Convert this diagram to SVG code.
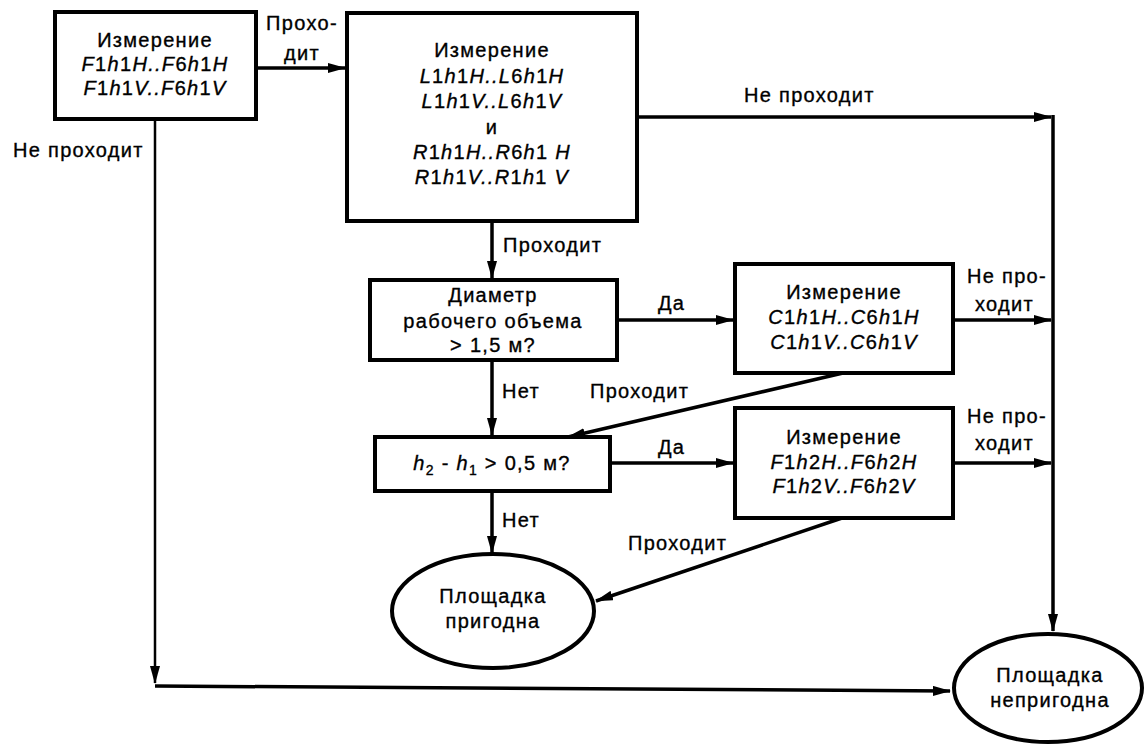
<svg xmlns="http://www.w3.org/2000/svg" width="1145" height="744" viewBox="0 0 1145 744">
<style>
  text { font-family: "Liberation Sans", Arial, sans-serif; font-size: 20px; letter-spacing: 1.3px; fill: #000; stroke: #000; stroke-width: 0.35px; }
  .c { text-anchor: middle; }
  .i { font-style: italic; }
  .box { fill: #fff; stroke: #000; stroke-width: 4; }
  .ell { fill: #fff; stroke: #000; stroke-width: 4; }
  .ln { fill: none; stroke: #000; stroke-width: 3.5; }
  .thin { fill: none; stroke: #000; stroke-width: 2.5; }
</style>
<defs>
  <marker id="ah" markerUnits="userSpaceOnUse" markerWidth="18" markerHeight="10" refX="17" refY="5" orient="auto">
    <path d="M0,0 L18,5 L0,10 z" fill="#000"/>
  </marker>
</defs>
<rect width="1145" height="744" fill="#fff"/>

<g id="connectors">
  <line class="ln" x1="256" y1="68" x2="345" y2="68" marker-end="url(#ah)"/>
  <line class="ln" x1="637" y1="117" x2="1051" y2="117" marker-end="url(#ah)"/>
  <line class="ln" x1="1053" y1="115" x2="1053" y2="631" marker-end="url(#ah)"/>
  <line class="ln" x1="492" y1="221" x2="492" y2="278" marker-end="url(#ah)"/>
  <line class="ln" x1="618" y1="320" x2="733" y2="320" marker-end="url(#ah)"/>
  <line class="ln" x1="953" y1="320" x2="1051" y2="320" marker-end="url(#ah)"/>
  <line class="ln" x1="843" y1="373" x2="568" y2="437" marker-end="url(#ah)"/>
  <line class="ln" x1="492" y1="360" x2="492" y2="435" marker-end="url(#ah)"/>
  <line class="ln" x1="610" y1="463" x2="733" y2="463" marker-end="url(#ah)"/>
  <line class="ln" x1="953" y1="463" x2="1051" y2="463" marker-end="url(#ah)"/>
  <line class="ln" x1="492" y1="491" x2="492" y2="553" marker-end="url(#ah)"/>
  <line class="ln" x1="842" y1="518" x2="596" y2="601" marker-end="url(#ah)"/>
  <line class="thin" x1="155" y1="119" x2="155" y2="683" marker-end="url(#ah)"/>
  <line class="ln" x1="155" y1="686" x2="950" y2="691" marker-end="url(#ah)"/>
  <text x="302" y="30" class="c">Прохо-</text>
  <text x="302" y="60" class="c">дит</text>
  <text x="13" y="157">Не проходит</text>
  <text x="744" y="102">Не проходит</text>
  <text x="503" y="252">Проходит</text>
  <text x="658" y="310">Да</text>
  <text x="967" y="283">Не про-</text>
  <text x="975" y="311">ходит</text>
  <text x="502" y="398">Нет</text>
  <text x="590" y="398">Проходит</text>
  <text x="658" y="454">Да</text>
  <text x="967" y="423">Не про-</text>
  <text x="975" y="450">ходит</text>
  <text x="502" y="527">Нет</text>
  <text x="628" y="550">Проходит</text>
</g>

<g id="node-f1">
  <rect class="box" x="55" y="12" width="201" height="107"/>
  <text x="155" y="47" class="c">Измерение</text>
  <text x="155" y="71" class="c"><tspan class="i">F</tspan>1<tspan class="i">h</tspan>1<tspan class="i">H..F</tspan>6<tspan class="i">h</tspan>1<tspan class="i">H</tspan></text>
  <text x="155" y="95" class="c"><tspan class="i">F</tspan>1<tspan class="i">h</tspan>1<tspan class="i">V..F</tspan>6<tspan class="i">h</tspan>1<tspan class="i">V</tspan></text>
</g>

<g id="node-lr">
  <rect class="box" x="347" y="13" width="290" height="208"/>
  <text x="492" y="57" class="c">Измерение</text>
  <text x="492" y="83" class="c"><tspan class="i">L</tspan>1<tspan class="i">h</tspan>1<tspan class="i">H..L</tspan>6<tspan class="i">h</tspan>1<tspan class="i">H</tspan></text>
  <text x="492" y="108" class="c"><tspan class="i">L</tspan>1<tspan class="i">h</tspan>1<tspan class="i">V..L</tspan>6<tspan class="i">h</tspan>1<tspan class="i">V</tspan></text>
  <text x="492" y="134" class="c">и</text>
  <text x="492" y="159" class="c"><tspan class="i">R</tspan>1<tspan class="i">h</tspan>1<tspan class="i">H..R</tspan>6<tspan class="i">h</tspan>1 <tspan class="i">H</tspan></text>
  <text x="492" y="184" class="c"><tspan class="i">R</tspan>1<tspan class="i">h</tspan>1<tspan class="i">V..R</tspan>1<tspan class="i">h</tspan>1 <tspan class="i">V</tspan></text>
</g>

<g id="node-diam">
  <rect class="box" x="370" y="280" width="247" height="80"/>
  <text x="493" y="302" class="c">Диаметр</text>
  <text x="493" y="328" class="c">рабочего объема</text>
  <text x="493" y="352" class="c">&gt; 1,5 м?</text>
</g>

<g id="node-c">
  <rect class="box" x="735" y="264" width="218" height="109"/>
  <text x="844" y="299" class="c">Измерение</text>
  <text x="844" y="324" class="c"><tspan class="i">C</tspan>1<tspan class="i">h</tspan>1<tspan class="i">H..C</tspan>6<tspan class="i">h</tspan>1<tspan class="i">H</tspan></text>
  <text x="844" y="349" class="c"><tspan class="i">C</tspan>1<tspan class="i">h</tspan>1<tspan class="i">V..C</tspan>6<tspan class="i">h</tspan>1<tspan class="i">V</tspan></text>
</g>

<g id="node-h">
  <rect class="box" x="375" y="437" width="235" height="54"/>
  <text x="492" y="470" class="c"><tspan class="i">h</tspan><tspan font-size="14" dy="5">2</tspan><tspan dy="-5"> - </tspan><tspan class="i">h</tspan><tspan font-size="14" dy="5">1</tspan><tspan dy="-5"> &gt; 0,5 м?</tspan></text>
</g>

<g id="node-f2">
  <rect class="box" x="735" y="408" width="218" height="110"/>
  <text x="844" y="444" class="c">Измерение</text>
  <text x="844" y="469" class="c"><tspan class="i">F</tspan>1<tspan class="i">h</tspan>2<tspan class="i">H..F</tspan>6<tspan class="i">h</tspan>2<tspan class="i">H</tspan></text>
  <text x="844" y="493" class="c"><tspan class="i">F</tspan>1<tspan class="i">h</tspan>2<tspan class="i">V..F</tspan>6<tspan class="i">h</tspan>2<tspan class="i">V</tspan></text>
</g>

<g id="node-ok">
  <ellipse class="ell" cx="493" cy="611" rx="101" ry="57"/>
  <text x="493" y="603" class="c">Площадка</text>
  <text x="493" y="628" class="c">пригодна</text>
</g>

<g id="node-fail">
  <ellipse class="ell" cx="1048" cy="688" rx="94" ry="54"/>
  <text x="1050" y="682" class="c">Площадка</text>
  <text x="1050" y="707" class="c">непригодна</text>
</g>
</svg>
